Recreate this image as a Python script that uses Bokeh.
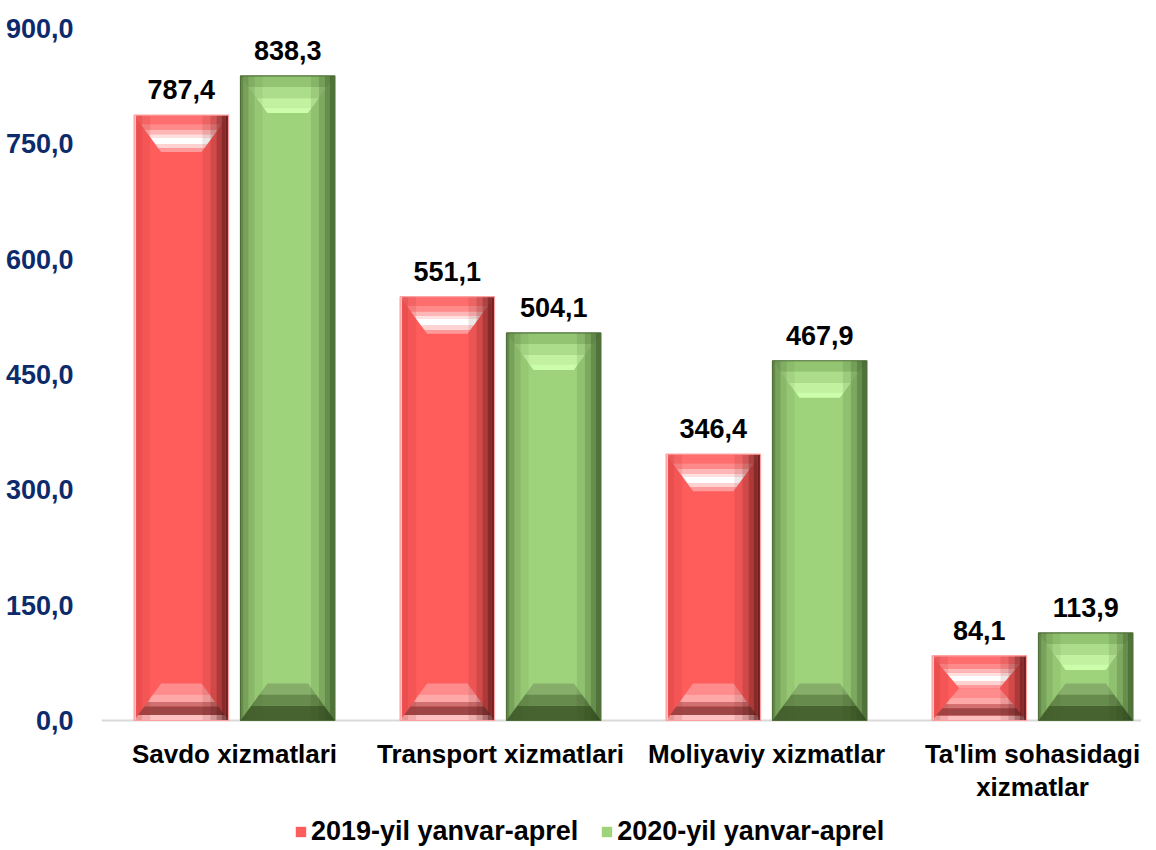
from bokeh.plotting import figure
from bokeh.models import Range1d, FixedTicker, Legend, LegendItem, ColumnDataSource, Span
from bokeh.core.properties import value
from bokeh.embed import file_html
from bokeh.resources import INLINE

# ---------------- data ----------------
categories = ["Savdo xizmatlari", "Transport xizmatlari", "Moliyaviy xizmatlar",
              "Ta'lim sohasidagi\nxizmatlar"]
series_names = ["2019-yil yanvar-aprel", "2020-yil yanvar-aprel"]
values_2019 = [787.4, 551.1, 346.4, 84.1]
values_2020 = [838.3, 504.1, 467.9, 113.9]
y_ticks = [0, 150, 300, 450, 600, 750, 900]


def fmt(v):
    return f"{v:.1f}".replace(".", ",")


# ---------------- layout ----------------
BL, BR, BT, BB = 101, 0, 28, 0
FRAME_W = 1040
PLOT_PX = 692          # pixels between value 0 and value 900
BELOW_PX = 128         # room under the baseline for category labels and legend
FRAME_H = PLOT_PX + BELOW_PX
X_END = FRAME_W / 266
Y_TOP = 900
PX_Y = PLOT_PX / Y_TOP
Y_START = -BELOW_PX / PX_Y
PX_X = FRAME_W / X_END

FONT = value("Liberation Sans")

p = figure(frame_width=FRAME_W, frame_height=FRAME_H, output_backend="svg",
           toolbar_location=None,
           x_range=Range1d(0, X_END), y_range=Range1d(Y_START, Y_TOP),
           min_border_left=BL, min_border_right=BR, min_border_top=BT,
           min_border_bottom=BB, outline_line_color=None)
p.xgrid.visible = False
p.ygrid.visible = False
p.xaxis.visible = False

OFFSET = 0.2
BAR_W = 0.355

styles = [
    dict(face="#FF5C5C", edge="#FF9E9E",
         top=[(0.0, 0.25, "#FF6E6E"), (0.25, 0.4, "#FF8A8A"), (0.4, 0.52, "#FFB6B6"),
              (0.52, 0.6, "#FFE0E0"), (0.6, 0.78, "#FFFFFF"), (0.78, 0.9, "#FFD2D2"),
              (0.9, 1.0, "#FF9A9A")],
         bottom=[(0.0, 0.3, "#FF8C8C"), (0.3, 0.5, "#FFA8A8"), (0.5, 0.62, "#D07070"),
                 (0.62, 0.85, "#9E4646"), (0.85, 1.0, "#FFC0C0")],
         left=[(0.0, 2, "#FFC0C0", 1.0), (2, 8, "#B83030", 0.3), (8, 16, "#B83030", 0.15)],
         right=[(26, 18, "#4A1010", 0.1), (18, 12, "#4A1010", 0.25), (12, 7, "#4A1010", 0.45),
                (7, 3, "#4A1010", 0.65), (3, 0, "#4A1010", 0.8)]),
    dict(face="#9ED27B", edge="#4E6E36",
         top=[(0.0, 0.3, "#93C472"), (0.3, 0.6, "#ACDD8A"), (0.6, 0.85, "#C2F19F"),
              (0.85, 1.0, "#CCFDAB")],
         bottom=[(0.0, 0.3, "#86AE6A"), (0.3, 0.6, "#678A4D"), (0.6, 1.0, "#47632F")],
         left=[(0.0, 3, "#3E5A2A", 0.6), (3, 8, "#3E5A2A", 0.4), (8, 14, "#3E5A2A", 0.22),
               (14, 22, "#3E5A2A", 0.08)],
         right=[(24, 16, "#2E4A1E", 0.12), (16, 10, "#2E4A1E", 0.3), (10, 5, "#2E4A1E", 0.5),
                (5, 0, "#2E4A1E", 0.7)]),
]

n = len(categories)
centers = [i + 0.5 for i in range(n)]
series_values = [values_2019, values_2020]
offsets = [-OFFSET, OFFSET]

# ---------------- baseline (value 0) ----------------
p.add_layout(Span(location=0, dimension="width", line_color="#D9D9D9", line_width=2,
                  level="underlay"))

# ---------------- faces ----------------
face_renderers = []
for s, vals in enumerate(series_values):
    src = ColumnDataSource(dict(x=[c + offsets[s] for c in centers], top=vals))
    r = p.vbar(x="x", top="top", bottom=0, width=BAR_W, source=src,
               fill_color=styles[s]["face"], line_color=None)
    face_renderers.append(r)

# ---------------- bevel overlays (derived from values) ----------------
xs_all, ys_all, col_all, alpha_all = [], [], [], []
DX = 27 / PX_X
DY_PX = 37
for s, vals in enumerate(series_values):
    st = styles[s]
    for c, v in zip(centers, vals):
        x0 = c + offsets[s] - BAR_W / 2
        x1 = c + offsets[s] + BAR_W / 2
        dy = min(DY_PX / PX_Y, v / 2)
        for t1, t2, col in st["top"]:
            xs_all.append([x0 + DX * t1, x1 - DX * t1, x1 - DX * t2, x0 + DX * t2])
            ys_all.append([v - dy * t1, v - dy * t1, v - dy * t2, v - dy * t2])
            col_all.append(col); alpha_all.append(1.0)
        for t1, t2, col in st["bottom"]:
            a1, a2 = 1 - t1, 1 - t2
            xs_all.append([x0 + DX * a1, x1 - DX * a1, x1 - DX * a2, x0 + DX * a2])
            ys_all.append([dy * a1, dy * a1, dy * a2, dy * a2])
            col_all.append(col); alpha_all.append(1.0)
        for p1, p2, col, al in st["left"]:
            xa, xb = x0 + p1 / PX_X, x0 + p2 / PX_X
            xs_all.append([xa, xb, xb, xa]); ys_all.append([0, 0, v, v])
            col_all.append(col); alpha_all.append(al)
        for p1, p2, col, al in st["right"]:
            xa, xb = x1 - p1 / PX_X, x1 - p2 / PX_X
            xs_all.append([xa, xb, xb, xa]); ys_all.append([0, 0, v, v])
            col_all.append(col); alpha_all.append(al)

p.patches(xs="xs", ys="ys", fill_color="c", fill_alpha="a", line_color=None,
          source=ColumnDataSource(dict(xs=xs_all, ys=ys_all, c=col_all, a=alpha_all)))

# thin outline of each bar
for s, vals in enumerate(series_values):
    p.vbar(x=[c + offsets[s] for c in centers], top=vals, bottom=0, width=BAR_W,
           fill_color=None, line_color=styles[s]["edge"], line_width=1.2)

# ---------------- value labels ----------------
for s, vals in enumerate(series_values):
    p.text(x=[c + offsets[s] for c in centers], y=vals, text=[fmt(v) for v in vals],
           text_align="center", text_baseline="bottom", y_offset=-16,
           text_font=FONT, text_font_style="bold", text_font_size="27px",
           text_color="#000000")

# ---------------- category labels (under the baseline) ----------------
p.text(x=centers, y=[0] * n, text=categories, text_align="center", text_baseline="top",
       y_offset=18, text_line_height=1.1, text_font=FONT, text_font_style="bold",
       text_font_size="26px", text_color="#000000")

# ---------------- y axis ----------------
p.yaxis.ticker = FixedTicker(ticks=y_ticks)
p.yaxis.major_label_overrides = {t: fmt(t) for t in y_ticks}
p.yaxis.axis_line_color = None
p.yaxis.major_tick_line_color = None
p.yaxis.minor_tick_line_color = None
p.yaxis.major_label_standoff = 22
p.yaxis.major_label_text_font = "Liberation Sans"
p.yaxis.major_label_text_font_style = "bold"
p.yaxis.major_label_text_font_size = "27px"
p.yaxis.major_label_text_color = "#0D2B6B"

# ---------------- legend ----------------
legend = Legend(items=[LegendItem(label=series_names[i], renderers=[face_renderers[i]])
                       for i in range(2)],
                orientation="horizontal", location=(193, 1),
                label_text_font="Liberation Sans", label_text_font_style="bold",
                label_text_font_size="27px", label_text_color="#000000",
                border_line_color=None, background_fill_alpha=0,
                glyph_width=13, glyph_height=13, spacing=22, label_standoff=4,
                padding=0, margin=0)
p.add_layout(legend, "center")

open("out.html", "w").write(file_html(p, INLINE))
